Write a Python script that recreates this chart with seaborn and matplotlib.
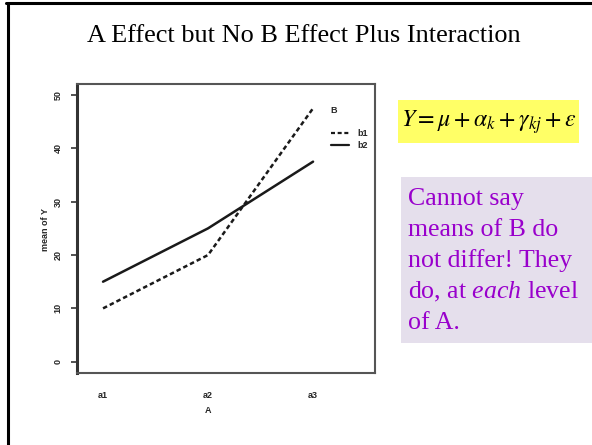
import matplotlib
matplotlib.use("Agg")
import matplotlib.pyplot as plt
from matplotlib.lines import Line2D
from matplotlib.patches import Rectangle
import pandas as pd
import seaborn as sns

# Cell means of Y for each level of factor A, one series per level of B
levels_a = ["a1", "a2", "a3"]
levels_b = ["b1", "b2"]
mean_b1 = [10, 20, 47.5]
mean_b2 = [15, 25, 37.5]
y_ticks = [0, 10, 20, 30, 40, 50]

title = "A Effect but No B Effect Plus Interaction"
model = r"$Y=\mu+\alpha_k+\gamma_{kj}+\varepsilon$"
note_lines = [
    "Cannot say",
    "means of B do",
    "not differ! They",
    r"do, at $\mathit{each}$ level",
    "of A.",
]

df = pd.DataFrame({
    "A": levels_a * 2,
    "B": [levels_b[0]] * 3 + [levels_b[1]] * 3,
    "Y": mean_b1 + mean_b2,
})

sns.set_style("white")
plt.rcParams.update({
    "font.family": ["Liberation Sans", "DejaVu Sans"],
    "mathtext.fontset": "custom",
    "mathtext.rm": "Liberation Serif",
    "mathtext.it": "Liberation Serif:italic",
    "mathtext.bf": "Liberation Serif:bold",
})

W, H = 592, 445
fig = plt.figure(figsize=(W / 100, H / 100), dpi=100)


def fx(px):
    return px / W


def fy(py):
    return 1 - py / H


# slide frame (left and top edges)
fig.add_artist(Line2D([fx(7.5), fx(7.5)], [0, fy(3)], transform=fig.transFigure,
                      color="black", lw=2.2))
fig.add_artist(Line2D([fx(6.4), 1], [fy(3), fy(3)], transform=fig.transFigure,
                      color="black", lw=2.2))

fig.text(fx(303.5), fy(42), title, ha="center", va="baseline",
         fontfamily="Liberation Serif", fontsize=18.9, color="black")

# interaction plot
ax = fig.add_axes([fx(77), fy(373.3), fx(375) - fx(77), fy(84.3) - fy(373.3)])
sns.lineplot(data=df, x="A", y="Y", style="B", style_order=levels_b,
             dashes={"b1": (1.8, 1.2), "b2": ""}, color="#1a1a1a",
             linewidth=1.8, sort=False, ax=ax)
ax.set_xlim(-0.248, 2.59)
ax.set_ylim(-2.17, 52.0)
ax.set_yticks(y_ticks)
ax.set_yticklabels([str(v) for v in y_ticks], rotation=90, va="center",
                   fontsize=6.5, fontweight="bold")
ax.set_xticks(range(len(levels_a)))
ax.set_xticklabels(levels_a, fontsize=6.5, fontweight="bold")
ax.tick_params(axis="y", which="major", left=True, length=4.5, width=1.2,
               color="#333333", pad=6)
ax.tick_params(axis="x", which="major", bottom=False, pad=9)
ax.set_xlabel("A", fontsize=6.5, fontweight="bold")
ax.set_ylabel("mean of Y", fontsize=6.5, fontweight="bold")
ax.xaxis.set_label_coords(0.4396, -0.112)
ax.yaxis.set_label_coords(-0.092, 0.496)
for side, sp in ax.spines.items():
    sp.set_visible(True)
    sp.set_color("#555555" if side != "left" else "#333333")
    sp.set_linewidth(2.2 if side == "left" else 1.5)

sns.move_legend(ax, "upper left", bbox_to_anchor=(0.853, 0.845), frameon=False,
                title=None, fontsize=6.5, handlelength=2.0, handletextpad=0.9,
                labelspacing=0.3, borderpad=0, borderaxespad=0)
for t in ax.get_legend().get_texts():
    t.set_fontweight("bold")
for h in ax.get_legend().legend_handles:
    h.set_color("#1a1a1a")
    h.set_linewidth(1.6)
ax.text(0.862, 0.91, "B", transform=ax.transAxes, fontsize=6.5, fontweight="bold",
        ha="center", va="center")

# model equation on a yellow panel
fig.add_artist(Rectangle((fx(397.7), fy(143)), fx(579) - fx(397.7), fy(100) - fy(143),
                         transform=fig.transFigure, facecolor="#FFFF66", edgecolor="none"))
fig.text(fx(401), fy(127), model, math_fontfamily="stix", fontsize=17.2,
         va="baseline", ha="left", color="black")

# note on a lavender panel
fig.add_artist(Rectangle((fx(401), fy(343)), 1 - fx(401), fy(176.7) - fy(343),
                         transform=fig.transFigure, facecolor="#E5DFEC", edgecolor="none"))
for i, line in enumerate(note_lines):
    fig.text(fx(407.7), fy(205 + 31 * i), line, fontfamily="Liberation Serif",
             math_fontfamily="custom", fontsize=18.6, color="#9900CC",
             va="baseline", ha="left")

fig.savefig("out.png", dpi=100)
